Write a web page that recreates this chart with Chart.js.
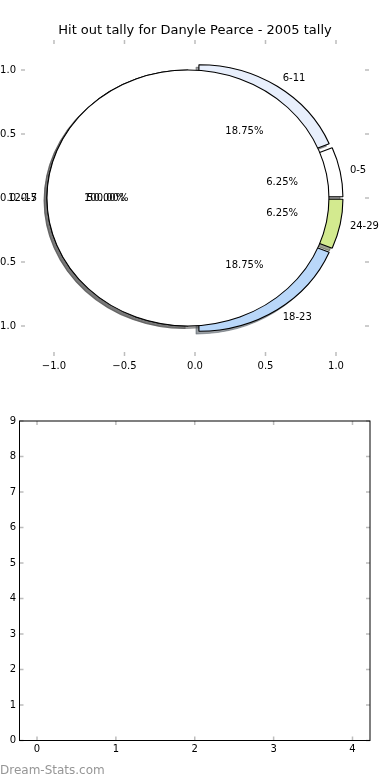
<!DOCTYPE html>
<html>
<head>
<meta charset="utf-8">
<script src="https://cdn.jsdelivr.net/npm/chart.js@4.4.1/dist/chart.umd.min.js"></script>
<style>
  html, body { margin: 0; padding: 0; background: #fff; }
  #page { position: relative; width: 390px; height: 780px; overflow: hidden; }
  canvas { position: absolute; left: 0; }
  #credit { position: absolute; left: 0; top: 763px; font: 12px/14px "DejaVu Sans"; color: #969696; }
</style>
</head>
<body>
<div id="page">
  <canvas id="axesTop" width="390" height="390" style="top:0"></canvas>
  <canvas id="pie" width="390" height="390" style="top:3px"></canvas>
  <canvas id="axesBottom" width="390" height="390" style="top:390px"></canvas>
  <div id="credit">Dream-Stats.com</div>
</div>
<script>
const TITLE = 'Hit out tally for Danyle Pearce - 2005 tally';

// main pie
const bands = ['0-5', '6-11', '12-17', '18-23', '24-29'];
const tally = [1, 3, 8, 3, 1];
const bandColours = ['#ffffff', '#e8effc', '#ffffff', '#b9d7f9', '#d3ea8f'];

// the second, single slice pie drawn over it
const overlayBands = ['0-5'];
const overlayTally = [1];
const overlayColours = ['#ffffff'];

// tick labels
const pieTicks = [-1, -0.5, 0, 0.5, 1];
const lowerXTicks = [0, 1, 2, 3, 4];
const lowerYTicks = [0, 1, 2, 3, 4, 5, 6, 7, 8, 9];

Chart.defaults.font.family = '"DejaVu Sans"';
Chart.defaults.font.size = 10;
Chart.defaults.color = '#000';

const R = 128;          // px for radius 1.0 (vertical)
const SX = 141 / 128;   // axes are not square, pie comes out as an ellipse
const EXPLODE = 0.05;
const SHADOW = 0.02;
const LABEL_AT = 1.12;
const PCT_AT = 0.63;

const minus = v => (v < 0 ? '\u2212' : '') + Math.abs(v).toFixed(1);

// matplotlib-ish ticks pointing inwards on all four sides
const innerTicks = {
  id: 'innerTicks',
  afterDraw(chart, args, opts) {
    const { ctx, chartArea: a } = chart;
    const len = 4;
    ctx.save();
    ctx.strokeStyle = '#bdbdbd';
    ctx.lineWidth = 1.5;
    ctx.beginPath();
    chart.scales.x.ticks.forEach(t => {
      const px = chart.scales.x.getPixelForValue(t.value);
      ctx.moveTo(px, a.top); ctx.lineTo(px, a.top + len);
      ctx.moveTo(px, a.bottom); ctx.lineTo(px, a.bottom - len);
    });
    chart.scales.y.ticks.forEach(t => {
      const py = chart.scales.y.getPixelForValue(t.value);
      ctx.moveTo(a.left, py); ctx.lineTo(a.left + len, py);
      ctx.moveTo(a.right, py); ctx.lineTo(a.right - len, py);
    });
    ctx.stroke();
    if (opts.frame) {
      ctx.strokeStyle = '#000';
      ctx.lineWidth = 1;
      ctx.strokeRect(a.left, a.top, a.right - a.left, a.bottom - a.top);
    }
    ctx.restore();
  }
};

function axis(min, max, values, fmt, size, padding) {
  return {
    type: 'linear', min: min, max: max,
    afterBuildTicks: s => { s.ticks = values.map(v => ({ value: v })); },
    afterFit: s => { if (s.isHorizontal()) s.height = size; else s.width = size; },
    grid: { display: false, drawTicks: false },
    border: { display: false },
    ticks: { padding: padding, autoSkip: false, maxRotation: 0, callback: fmt }
  };
}

// empty axis on the right so the title stays centred on the page
const spacer = {
  position: 'right',
  afterFit: s => { s.width = 21; },
  grid: { display: false, drawTicks: false },
  border: { display: false },
  ticks: { display: false }
};

new Chart(document.getElementById('axesTop'), {
  type: 'scatter',
  data: { datasets: [{ data: [] }] },
  options: {
    responsive: false,
    animation: false,
    layout: { padding: 0 },
    plugins: {
      legend: { display: false },
      tooltip: { enabled: false },
      title: {
        display: true, text: TITLE, color: '#000',
        font: { size: 13, weight: 'normal' },
        padding: { top: 23, bottom: 1.4 }
      },
      innerTicks: { frame: false }
    },
    scales: {
      x: axis(-1.234, 1.234, pieTicks, minus, 34, 4),
      y: axis(-1.234, 1.234, pieTicks, minus, 21, 5),
      yRight: spacer
    }
  },
  plugins: [innerTicks]
});

function shade(hex) {
  const n = parseInt(hex.slice(1), 16);
  const r = (n >> 16) & 255, g = (n >> 8) & 255, b = n & 255;
  return 'rgba(' + Math.round(r * 0.3) + ',' + Math.round(g * 0.3) + ',' + Math.round(b * 0.3) + ',0.5)';
}

function drawWedge(ctx, arc, dx, dy, colour) {
  const mid = (arc.startAngle + arc.endAngle) / 2;
  const saved = arc.options;
  const full = arc.circumference >= Math.PI * 2 - 1e-6;
  const opts = Object.assign({}, saved, colour ? { backgroundColor: colour, borderColor: colour } : {});
  if (full) opts.borderWidth = 0;   // no radial edge on a 100% slice
  arc.innerRadius = 0;
  arc.outerRadius = R;
  arc.options = opts;
  ctx.save();
  ctx.translate(Math.cos(mid) * EXPLODE * R + dx, Math.sin(mid) * EXPLODE * R + dy);
  arc.draw(ctx);
  if (full) {
    ctx.beginPath();
    ctx.arc(arc.x, arc.y, arc.outerRadius, 0, Math.PI * 2);
    ctx.lineWidth = saved.borderWidth;
    ctx.strokeStyle = opts.borderColor;
    ctx.stroke();
  }
  ctx.restore();
  arc.options = saved;
}

// both pies share the full radius, shadows under everything, y flipped so
// slices run anticlockwise from 3 o'clock like matplotlib
const mplPie = {
  id: 'mplPie',
  beforeDatasetsDraw(chart) {
    const { ctx, chartArea: a } = chart;
    const cx = (a.left + a.right) / 2, cy = (a.top + a.bottom) / 2;
    const metas = chart.data.datasets.map((d, i) => chart.getDatasetMeta(i));
    ctx.save();
    ctx.translate(cx, cy);
    ctx.scale(SX, -1);
    ctx.translate(-cx, -cy);
    metas.forEach((meta, d) => meta.data.forEach((arc, i) =>
      drawWedge(ctx, arc, -SHADOW * R, -SHADOW * R, shade(chart.data.datasets[d].backgroundColor[i]))));
    metas.forEach(meta => meta.data.forEach(arc => drawWedge(ctx, arc, 0, 0, null)));
    ctx.restore();
    return false;
  },
  afterDraw(chart) {
    const { ctx, chartArea: a } = chart;
    const cx = (a.left + a.right) / 2, cy = (a.top + a.bottom) / 2;
    ctx.save();
    ctx.font = '10px "DejaVu Sans"';
    ctx.fillStyle = '#000';
    ctx.textBaseline = 'middle';
    chart.data.datasets.forEach((ds, d) => {
      const total = ds.data.reduce((s, v) => s + v, 0);
      chart.getDatasetMeta(d).data.forEach((arc, i) => {
        const mid = (arc.startAngle + arc.endAngle) / 2;
        const c = Math.cos(mid), s = Math.sin(mid);
        const lr = LABEL_AT * R, pr = PCT_AT * R;
        ctx.textAlign = c > 1e-9 ? 'left' : 'right';
        ctx.fillText(ds.bands[i], cx + c * lr * SX, cy - s * lr);
        ctx.textAlign = 'center';
        ctx.fillText((ds.data[i] / total * 100).toFixed(2) + '%', cx + c * pr * SX, cy - s * pr);
      });
    });
    ctx.restore();
  }
};

new Chart(document.getElementById('pie'), {
  type: 'pie',
  data: {
    labels: bands,
    datasets: [
      { data: tally, bands: bands, backgroundColor: bandColours, borderColor: '#000', borderWidth: 1 },
      { data: overlayTally, bands: overlayBands, backgroundColor: overlayColours, borderColor: '#000', borderWidth: 1 }
    ]
  },
  options: {
    responsive: false,
    animation: false,
    rotation: 90,
    layout: { padding: 0 },
    plugins: { legend: { display: false }, tooltip: { enabled: false } }
  },
  plugins: [mplPie]
});

new Chart(document.getElementById('axesBottom'), {
  type: 'scatter',
  data: { datasets: [{ data: [] }] },
  options: {
    responsive: false,
    animation: false,
    layout: { padding: { left: 0, right: 20, top: 31, bottom: 0 } },
    plugins: {
      legend: { display: false },
      tooltip: { enabled: false },
      innerTicks: { frame: true }
    },
    scales: {
      x: axis(-0.222, 4.222, lowerXTicks, v => String(v), 39.5, 2.5),
      y: axis(0, 9, lowerYTicks, v => String(v), 19.5, 3.5)
    }
  },
  plugins: [innerTicks]
});
</script>
</body>
</html>
